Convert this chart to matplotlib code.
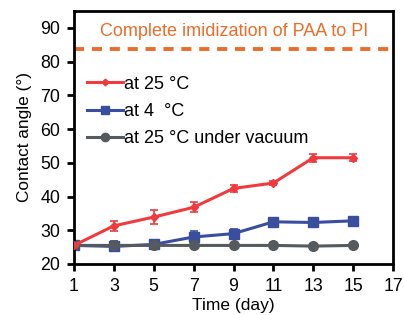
import matplotlib.pyplot as plt

plt.rcParams["font.family"] = ["Liberation Sans", "DejaVu Sans"]

days = [1, 3, 5, 7, 9, 11, 13, 15]

rt_vals = [25.5, 31.3, 33.9, 36.8, 42.4, 44.0, 51.5, 51.5]
rt_err = [0.3, 1.5, 2.0, 1.5, 1.0, 0.5, 1.2, 1.0]

cold_vals = [25.5, 25.2, 25.8, 28.0, 29.0, 32.5, 32.3, 32.8]
cold_err = [0.3, 1.5, 0.5, 1.8, 1.5, 0.5, 0.5, 0.5]

vac_vals = [25.5, 25.5, 25.5, 25.5, 25.5, 25.5, 25.3, 25.5]
vac_err = [0.2, 0.2, 0.2, 0.2, 0.2, 0.2, 0.2, 0.2]

pi_level = 83.7

fig = plt.figure(figsize=(4.04, 3.15), dpi=100)
ax = fig.add_axes([0.183, 0.162, 0.79, 0.803])

eb_rt = ax.errorbar(days, rt_vals, yerr=rt_err, color="#f03a3e", marker="D", markersize=4,
                    lw=2.2, capsize=3, elinewidth=1.2, capthick=1.2, zorder=3)
eb_cold = ax.errorbar(days, cold_vals, yerr=cold_err, color="#3a4ea0", marker="s", markersize=7,
                      lw=2.2, capsize=3, elinewidth=1.2, capthick=1.2, zorder=2)
eb_vac = ax.errorbar(days, vac_vals, yerr=vac_err, color="#555a5e", marker="o", markersize=7,
                     lw=2.2, capsize=3, elinewidth=1.2, capthick=1.2, zorder=2)

# dashed reference line for full imidization
ax.axhline(pi_level, color="#eb6d2a", lw=2.8, ls=(0, (2.6, 2.0)))
ax.text(9.05, 88.8, "Complete imidization of PAA to PI", color="#eb6d2a",
        fontsize=13, ha="center", va="center")

ax.set_xlim(1, 17)
ax.set_ylim(20, 95)
ax.set_xticks(range(1, 18, 2))
ax.set_yticks(range(20, 91, 10))
ax.set_xlabel("Time (day)", fontsize=12.5, labelpad=2)
ax.set_ylabel("Contact angle (°)", fontsize=12.4, labelpad=6)
ax.tick_params(labelsize=12.8, width=2, length=5, direction="out", pad=5)
for s in ax.spines.values():
    s.set_linewidth(2)

ax.legend(handles=[eb_rt[0], eb_cold[0], eb_vac[0]],
          labels=["at 25 °C", "at 4  °C", "at 25 °C under vacuum"],
          loc="upper left", bbox_to_anchor=(0.0, 0.795), frameon=False,
          fontsize=13, handlelength=2.0, handletextpad=0.1, labelspacing=0.58,
          borderaxespad=0.3, markerscale=0.85)

plt.savefig("out.png", dpi=100)
